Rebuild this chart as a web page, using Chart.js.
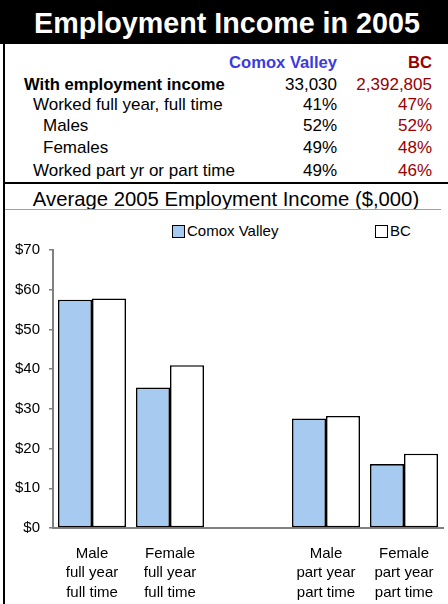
<!DOCTYPE html>
<html>
<head>
<meta charset="utf-8">
<script src="https://cdn.jsdelivr.net/npm/chart.js@4/dist/chart.umd.min.js"></script>
<style>
  html, body { margin:0; padding:0; background:#fff; }
  body { width:448px; height:604px; position:relative; overflow:hidden; font-family:"Liberation Sans", Arial, sans-serif; color:#000; }
  .abs { position:absolute; white-space:nowrap; }
  #titleBand { left:0; top:0; width:448px; height:44px; background:#000; }
  #title { left:0; width:454px; top:8px; line-height:31px; font-size:28.7px; font-weight:bold; color:#fff; text-align:center; }
  #leftBorder { left:3px; top:44px; width:2px; height:560px; background:#000; }
  #hline1 { left:3px; top:182px; width:445px; height:2px; background:#000; }
  #hline2 { left:5px; top:209px; width:436px; height:1px; background:#a0a0a0; }
  #subtitle { left:0; width:452px; top:188px; line-height:22px; font-size:20.3px; text-align:center; }
  .row { font-size:17px; line-height:20px; }
  .lbl { text-align:left; }
  .cv { text-align:right; width:120px; }
  .bc { text-align:right; width:120px; color:#990000; }
  .leg-box { width:11px; height:11px; border:1px solid #000; }
  .leg-txt { font-size:15px; line-height:18px; }
  #chartCanvas { position:absolute; left:0; top:212px; }
</style>
</head>
<body>
<div id="titleBand" class="abs"></div>
<div id="title" class="abs">Employment Income in 2005</div>
<div id="leftBorder" class="abs"></div>
<div id="table"></div>
<div id="hline1" class="abs"></div>
<div id="subtitle" class="abs">Average 2005 Employment Income ($,000)</div>
<div id="hline2" class="abs"></div>
<div id="legend"></div>
<canvas id="chartCanvas" width="448" height="392"></canvas>
<script>
// ---- Table data ----
const tableHeaders = ["Comox Valley", "BC"];
const tableLabels = ["With employment income", "Worked full year, full time", "Males", "Females", "Worked part yr or part time"];
const tableComox = ["33,030", "41%", "52%", "49%", "49%"];
const tableBC = ["2,392,805", "47%", "52%", "48%", "46%"];

// ---- Chart data ----
const categories = [
  ["Male", "full year", "full time"],
  ["Female", "full year", "full time"],
  "",
  ["Male", "part year", "part time"],
  ["Female", "part year", "part time"]
];
const seriesNames = ["Comox Valley", "BC"];
const comoxValues = [57.5, 35.4, null, 27.6, 16.1];
const bcValues = [57.8, 41.0, null, 28.2, 18.7];
const yTicks = [0, 10, 20, 30, 40, 50, 60, 70];

// ---- Build table ----
const rowCenters = [84.5, 104.5, 125.5, 148.3, 171.2];
const labelIndent = [24, 33, 43, 43, 33];
const table = document.getElementById('table');
function addDiv(cls, text, style) {
  const d = document.createElement('div');
  d.className = 'abs ' + cls;
  d.textContent = text;
  Object.assign(d.style, style);
  table.appendChild(d);
  return d;
}
addDiv('row cv', tableHeaders[0], { left: (337 - 120) + 'px', top: (62.8 - 10) + 'px', fontWeight: 'bold', color: '#3b3be0', fontSize: '16.6px' });
addDiv('row bc', tableHeaders[1], { left: (432 - 120) + 'px', top: (62.8 - 10) + 'px', fontWeight: 'bold', fontSize: '16.6px' });
tableLabels.forEach((t, i) => {
  const top = (rowCenters[i] - 10) + 'px';
  addDiv('row lbl', t, { left: labelIndent[i] + 'px', top, fontWeight: i === 0 ? 'bold' : 'normal', fontSize: i === 0 ? '16.6px' : '17px' });
  addDiv('row cv', tableComox[i], { left: (337 - 120) + 'px', top });
  addDiv('row bc', tableBC[i], { left: (432 - 120) + 'px', top });
});

// ---- Legend (HTML) ----
const seriesColors = ['#a6caf0', '#ffffff'];
const legend = document.getElementById('legend');
const legendPos = [{ box: 172, text: 187 }, { box: 375, text: 390 }];
seriesNames.forEach((n, i) => {
  const b = document.createElement('div');
  b.className = 'abs leg-box';
  b.style.left = legendPos[i].box + 'px';
  b.style.top = '225px';
  b.style.background = seriesColors[i];
  legend.appendChild(b);
  const t = document.createElement('div');
  t.className = 'abs leg-txt';
  t.style.left = legendPos[i].text + 'px';
  t.style.top = '222px';
  t.textContent = n;
  legend.appendChild(t);
});

// ---- Chart ----
Chart.defaults.font.family = '"Liberation Sans", Arial, sans-serif';
Chart.defaults.color = '#000';
new Chart(document.getElementById('chartCanvas'), {
  type: 'bar',
  data: {
    labels: categories,
    datasets: [
      { label: seriesNames[0], data: comoxValues, backgroundColor: seriesColors[0], borderColor: '#000', borderWidth: 1.6, borderSkipped: false },
      { label: seriesNames[1], data: bcValues, backgroundColor: seriesColors[1], borderColor: '#000', borderWidth: 1.6, borderSkipped: false }
    ]
  },
  options: {
    responsive: false,
    animation: false,
    events: [],
    layout: { padding: { top: 38, right: 5, bottom: 0, left: 0 } },
    datasets: { bar: { categoryPercentage: 0.872, barPercentage: 1.0 } },
    plugins: { legend: { display: false }, tooltip: { enabled: false }, title: { display: false } },
    scales: {
      x: {
        grid: { display: false },
        border: { display: true, color: '#808080', width: 2 },
        ticks: { font: { size: 15, lineHeight: 1.3 }, padding: 8, maxRotation: 0, autoSkip: false, color: '#000' },
        afterFit: (s) => { s.height = 76; }
      },
      y: {
        min: yTicks[0],
        max: yTicks[yTicks.length - 1],
        afterBuildTicks: (s) => { s.ticks = yTicks.map(v => ({ value: v })); },
        grid: { drawOnChartArea: false, drawTicks: true, tickLength: 4, color: '#808080', lineWidth: 1.5 },
        border: { display: true, color: '#808080', width: 2 },
        ticks: { font: { size: 15 }, padding: 9, color: '#000', callback: (v) => '$' + v },
        afterFit: (s) => { s.width = 53; }
      }
    }
  }
});
</script>
</body>
</html>
